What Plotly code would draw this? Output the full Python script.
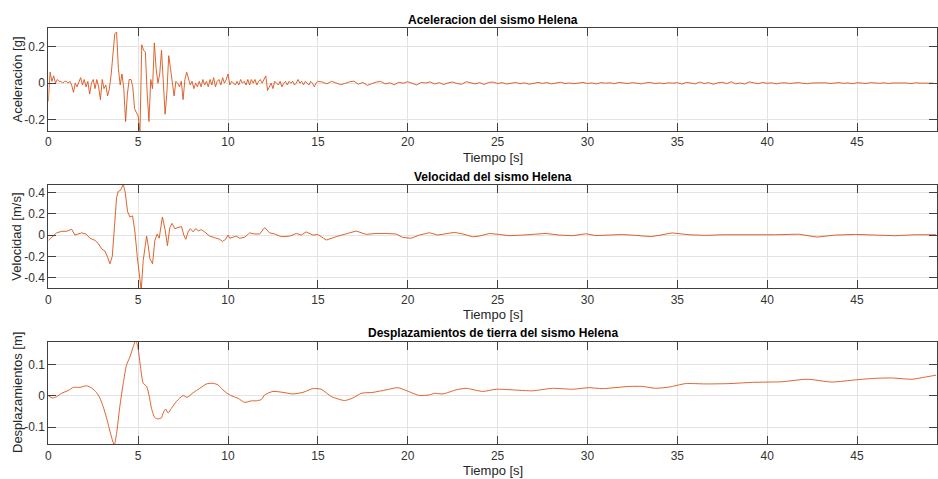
import numpy as np
import plotly.graph_objects as go

# ---------------- data ----------------
# Acceleration [g]: 0-15 s sampled every 0.1 s
acc_t1 = np.round(np.arange(0, 15.0001, 0.1), 2)
acc_g1 = [
    -0.10, 0.06, 0.01, 0.04, 0.00, 0.02, 0.01, 0.01, 0.00, 0.01,
    0.01, 0.00, 0.01, -0.01, -0.05, 0.00, -0.02, 0.01, 0.03, -0.01,
    0.02, -0.02, 0.01, -0.06, 0.00, 0.02, -0.03, 0.02, -0.02, -0.09,
    0.02, -0.03, -0.01, -0.07, -0.03, 0.05, 0.16, 0.27, 0.28, 0.08,
    -0.01, 0.05, -0.03, -0.21, -0.06, 0.02, 0.02, -0.02, -0.14, -0.16,
    -0.18, -0.27, 0.21, 0.18, 0.17, -0.05, -0.21, 0.02, -0.03, 0.22,
    0.08, 0.00, 0.05, 0.18, 0.03, -0.17, -0.05, 0.15, 0.08, 0.00,
    -0.07, 0.01, 0.00, -0.02, 0.01, -0.09, 0.02, 0.06, 0.03, -0.01,
    0.01, -0.03, 0.00, -0.02, 0.01, -0.02, 0.02, -0.01, 0.01, -0.02,
    0.02, -0.01, 0.03, -0.02, 0.01, 0.02, -0.01, 0.03, 0.00, 0.02,
    0.05, -0.01, 0.01, 0.00, -0.01, 0.01, -0.01, 0.02, 0.00, 0.01,
    -0.01, 0.02, -0.01, 0.02, 0.00, 0.02, -0.01, 0.01, 0.02, 0.00,
    0.02, 0.04, -0.04, -0.02, 0.00, -0.03, 0.01, 0.00, -0.01, 0.01,
    -0.02, 0.00, 0.01, -0.01, 0.01, 0.00, 0.01, -0.01, 0.00, 0.02,
    0.00, 0.01, -0.01, 0.01, 0.00, -0.01, 0.01, 0.00, -0.02, 0.00,
    0.01,
]
# Acceleration [g]: 15.25-49.25 s sampled every 0.25 s
acc_t2 = np.round(np.arange(15.25, 49.2501, 0.25), 2)
acc_g2 = [
    0.006, -0.004, 0.010, 0.002, -0.008, -0.002, 0.007, 0.011,
    -0.006, 0.004, -0.012, -0.003, 0.006, 0.009, -0.004, 0.002,
    -0.009, 0.005, 0.000, 0.008, -0.003, -0.010, 0.004, 0.001,
    0.007, -0.005, 0.003, -0.008, 0.002, 0.006, -0.002, -0.006,
    0.008, 0.001, -0.004, 0.003, -0.007, 0.004, 0.006, -0.002,
    0.003, -0.005, 0.001, 0.004, -0.003, 0.002, -0.006, 0.001,
    0.004, -0.001, 0.003, -0.004, 0.000, 0.005, -0.002, 0.001,
    -0.003, 0.002, 0.004, -0.002, 0.001, -0.004, 0.003, 0.000,
    0.002, -0.003, 0.004, 0.001, -0.002, 0.003, -0.001, -0.004,
    0.002, 0.004, -0.002, 0.001, -0.003, 0.002, 0.000, 0.003,
    -0.005, 0.004, 0.001, -0.004, 0.006, -0.002, 0.003, -0.006,
    0.002, 0.005, -0.003, 0.008, -0.004, 0.001, -0.005, 0.007,
    0.002, -0.003, 0.004, -0.001, 0.002, -0.004, 0.001, 0.002,
    -0.002, 0.001, 0.003, -0.001, -0.003, 0.001, 0.002, -0.001,
    0.002, -0.002, 0.000, 0.003, -0.001, 0.001, -0.003, 0.002,
    0.001, -0.002, 0.003, 0.000, -0.001, 0.002, -0.002, 0.001,
    0.002, -0.001, 0.001, -0.003, 0.002, 0.000, -0.001, 0.002,
    0.000,
]

vel_t = [0.0, 0.18, 0.46, 0.74, 1.02, 1.3, 1.48, 1.65, 1.85, 2.1, 2.32, 2.6, 2.78, 2.97,
         3.15, 3.28, 3.43, 3.56, 3.67, 3.8, 3.89, 4.02, 4.17, 4.28, 4.41, 4.54, 4.69, 4.82,
         4.95, 5.06, 5.17, 5.28, 5.47, 5.56, 5.65, 5.8, 5.93, 6.06, 6.17, 6.35, 6.5, 6.63,
         6.76, 6.89, 7.04, 7.22, 7.41, 7.54, 7.65, 7.78, 7.9, 8.06, 8.2, 8.35, 8.52, 8.7,
         8.98, 9.26, 9.54, 9.69, 9.87, 10.0, 10.1, 10.28, 10.46, 10.65, 10.93, 11.2, 11.48,
         11.76, 12.04, 12.32, 12.6, 12.97, 13.43, 13.8, 14.08, 14.35, 14.72, 15.0, 15.47,
         16.02, 16.58, 17.13, 17.69, 18.24, 18.8, 19.35, 19.72, 20.19, 20.65, 21.2, 21.67,
         22.13, 22.6, 23.06, 23.61, 23.98, 24.54, 25.1, 25.65, 26.39, 27.13, 27.69, 28.43,
         29.17, 29.91, 30.46, 31.2, 31.94, 32.69, 33.52, 33.98, 34.72, 35.65, 36.57, 37.5,
         38.43, 39.35, 40.46, 41.76, 42.78, 43.8, 44.91, 46.02, 47.13, 48.24, 49.4]
vel_ms = [-0.05, -0.02, 0.02, 0.035, 0.035, 0.055, 0.0, 0.01, 0.02, 0.01, -0.03, -0.05, -0.08,
          -0.13, -0.15, -0.2, -0.27, -0.2, 0.02, 0.35, 0.41, 0.42, 0.48, 0.4, 0.22, 0.17, 0.18,
          0.03, -0.2, -0.36, -0.52, -0.24, -0.01, -0.1, -0.22, -0.27, -0.05, 0.01, -0.03, 0.17,
          0.05, -0.1, 0.07, 0.11, 0.06, 0.07, 0.08, 0.0, -0.04, 0.03, 0.06, 0.03, 0.06, 0.04,
          0.05, 0.03, -0.01, -0.025, -0.04, -0.06, -0.04, 0.0, -0.03, -0.02, -0.01, -0.03,
          -0.02, 0.02, 0.01, 0.01, 0.07, 0.02, 0.01, -0.016, -0.01, 0.015, 0.0, 0.03, 0.0,
          0.005, -0.047, -0.015, 0.015, 0.038, 0.006, 0.015, 0.015, 0.01, -0.022, -0.03, 0.0,
          0.022, 0.0, 0.01, 0.025, 0.01, -0.016, -0.01, 0.015, 0.006, -0.006, 0.0, 0.006,
          0.015, 0.0, -0.006, 0.012, -0.005, 0.0, 0.005, -0.003, -0.015, -0.003, 0.02, 0.003,
          -0.003, 0.003, 0.003, -0.003, 0.003, 0.008, -0.019, 0.0, 0.006, 0.0, -0.006, 0.003,
          0.003]

disp_t = [0, 0.24, 0.46, 0.74, 1.11, 1.39, 1.76, 2.13, 2.41, 2.69, 2.87, 3.05, 3.24, 3.43,
          3.56, 3.67, 3.8, 3.98, 4.17, 4.35, 4.54, 4.72, 4.87, 5.0, 5.13, 5.28, 5.47, 5.62,
          5.74, 5.93, 6.11, 6.3, 6.39, 6.52, 6.67, 6.85, 7.13, 7.5, 7.72, 8.06, 8.43, 8.8,
          9.17, 9.44, 9.72, 10.0, 10.28, 10.56, 10.93, 11.3, 11.57, 11.85, 12.04, 12.5, 13.06,
          13.61, 14.17, 14.72, 15.19, 15.74, 16.48, 16.95, 17.41, 18.06, 18.8, 19.45, 19.91,
          20.65, 21.2, 21.5, 21.95, 22.69, 23.24, 24.17, 24.91, 25.83, 26.94, 28.06, 29.17,
          30.09, 30.84, 32.32, 33.06, 33.8, 34.54, 35.46, 36.57, 37.87, 39.17, 40.83, 42.22,
          43.61, 44.91, 46.02, 46.94, 48.06, 48.8, 49.4]
disp_m = [0.0, -0.007, -0.003, 0.008, 0.017, 0.027, 0.027, 0.032, 0.025, 0.01, -0.007, -0.034,
          -0.07, -0.113, -0.14, -0.158, -0.12, -0.034, 0.04, 0.098, 0.124, 0.156, 0.178, 0.15,
          0.093, 0.04, 0.03, -0.002, -0.04, -0.07, -0.074, -0.07, -0.055, -0.042, -0.055,
          -0.04, -0.018, 0.001, -0.005, 0.01, 0.024, 0.038, 0.04, 0.035, 0.019, 0.006, -0.002,
          -0.008, -0.021, -0.016, -0.016, -0.012, 0.003, 0.014, 0.011, 0.006, 0.011, 0.023,
          0.021, -0.002, -0.015, -0.007, 0.008, 0.011, 0.019, 0.026, 0.017, 0.001, 0.003,
          0.008, 0.006, 0.019, 0.024, 0.014, 0.021, 0.019, 0.016, 0.024, 0.021, 0.026, 0.023,
          0.03, 0.03, 0.024, 0.028, 0.039, 0.038, 0.039, 0.043, 0.045, 0.053, 0.044, 0.051,
          0.056, 0.057, 0.053, 0.06, 0.066]

x_ticks = [0, 5, 10, 15, 20, 25, 30, 35, 40, 45]
x_labels = ["0", "5", "10", "15", "20", "25", "30", "35", "40", "45"]
acc_ticks = [-0.2, 0, 0.2]
acc_labels = ["-0.2", "0", "0.2"]
vel_ticks = [-0.4, -0.2, 0, 0.2, 0.4]
vel_labels = ["-0.4", "-0.2", "0", "0.2", "0.4"]
disp_ticks = [-0.1, 0, 0.1]
disp_labels = ["-0.1", "0", "0.1"]

titles = ["Aceleracion del sismo Helena", "Velocidad del sismo Helena",
          "Desplazamientos de tierra del sismo Helena"]
ylabels = ["Aceleración [g]", "Velocidad [m/s]", "Desplazamientos [m]"]
xlabel = "Tiempo [s]"

# ---------------- figure ----------------
W, H = 938, 479
X0, X1 = 48.3, 937.0          # plot area left / right in pixels
LINE = "#D95319"
AX = "#404040"
GRID = "#e3e3e3"
FONT = "Liberation Sans, Arial, sans-serif"

fig = go.Figure()
acc_t = list(acc_t1) + list(acc_t2)
acc_g = acc_g1 + acc_g2
fig.add_trace(go.Scatter(x=acc_t, y=acc_g, mode="lines", xaxis="x", yaxis="y",
                         line=dict(color=LINE, width=0.9), showlegend=False))
fig.add_trace(go.Scatter(x=vel_t, y=vel_ms, mode="lines", xaxis="x2", yaxis="y2",
                         line=dict(color=LINE, width=0.9), showlegend=False))
fig.add_trace(go.Scatter(x=disp_t, y=disp_m, mode="lines", xaxis="x3", yaxis="y3",
                         line=dict(color=LINE, width=0.9, shape="spline", smoothing=0.6),
                         showlegend=False))

def py(px):
    return (H - px) / H

def px_(x):
    return x / W

boxes = [(28.3, 130.7), (185.0, 288.3), (341.7, 444.3)]
yranges = [[-0.26, 0.30], [-0.50, 0.47], [-0.155, 0.173]]
yticks = [(acc_ticks, acc_labels), (vel_ticks, vel_labels), (disp_ticks, disp_labels)]

tickfont = dict(family=FONT, size=12, color="#333333")
layout = dict(width=W, height=H, margin=dict(l=0, r=0, t=0, b=0, autoexpand=False),
              paper_bgcolor="white", plot_bgcolor="white", showlegend=False,
              font=dict(family=FONT))
annotations = []
for i, ((top, bot), yr, (tv, tt)) in enumerate(zip(boxes, yranges, yticks)):
    sfx = "" if i == 0 else str(i + 1)
    layout["xaxis" + sfx] = dict(
        domain=[px_(X0), px_(X1)], anchor="y" + sfx, range=[0, 49.45],
        tickvals=x_ticks, ticktext=x_labels, ticks="inside", ticklen=8,
        tickcolor=AX, showline=True, linecolor=AX, linewidth=1, mirror="ticks",
        showgrid=True, gridcolor=GRID, gridwidth=1, zeroline=False, tickfont=tickfont)
    layout["yaxis" + sfx] = dict(
        domain=[py(bot), py(top)], anchor="x" + sfx, range=yr,
        tickvals=tv, ticktext=tt, ticks="inside", ticklen=8,
        tickcolor=AX, showline=True, linecolor=AX, linewidth=1, mirror="ticks",
        showgrid=True, gridcolor=GRID, gridwidth=1, zeroline=False, tickfont=tickfont)
    annotations.append(dict(text="<b>" + titles[i] + "</b>", xref="paper", yref="paper",
                            x=px_((X0 + X1) / 2), y=py(top - 8.5), xanchor="center",
                            yanchor="middle", showarrow=False,
                            font=dict(family=FONT, size=12, color="#000000")))
    annotations.append(dict(text=xlabel, xref="paper", yref="paper",
                            x=px_((X0 + X1) / 2), y=py(bot + 26.5), xanchor="center",
                            yanchor="middle", showarrow=False,
                            font=dict(family=FONT, size=13, color="#262626")))
    annotations.append(dict(text=ylabels[i], xref="paper", yref="paper",
                            x=px_(17), y=py((top + bot) / 2), xanchor="center",
                            yanchor="middle", textangle=-90, showarrow=False,
                            font=dict(family=FONT, size=13, color="#262626")))
layout["annotations"] = annotations
fig.update_layout(**layout)

fig.write_html("out.html",
               config={"displayModeBar": False},
               post_script="document.body.style.margin='0';"
                           "document.body.style.overflow='hidden';")
